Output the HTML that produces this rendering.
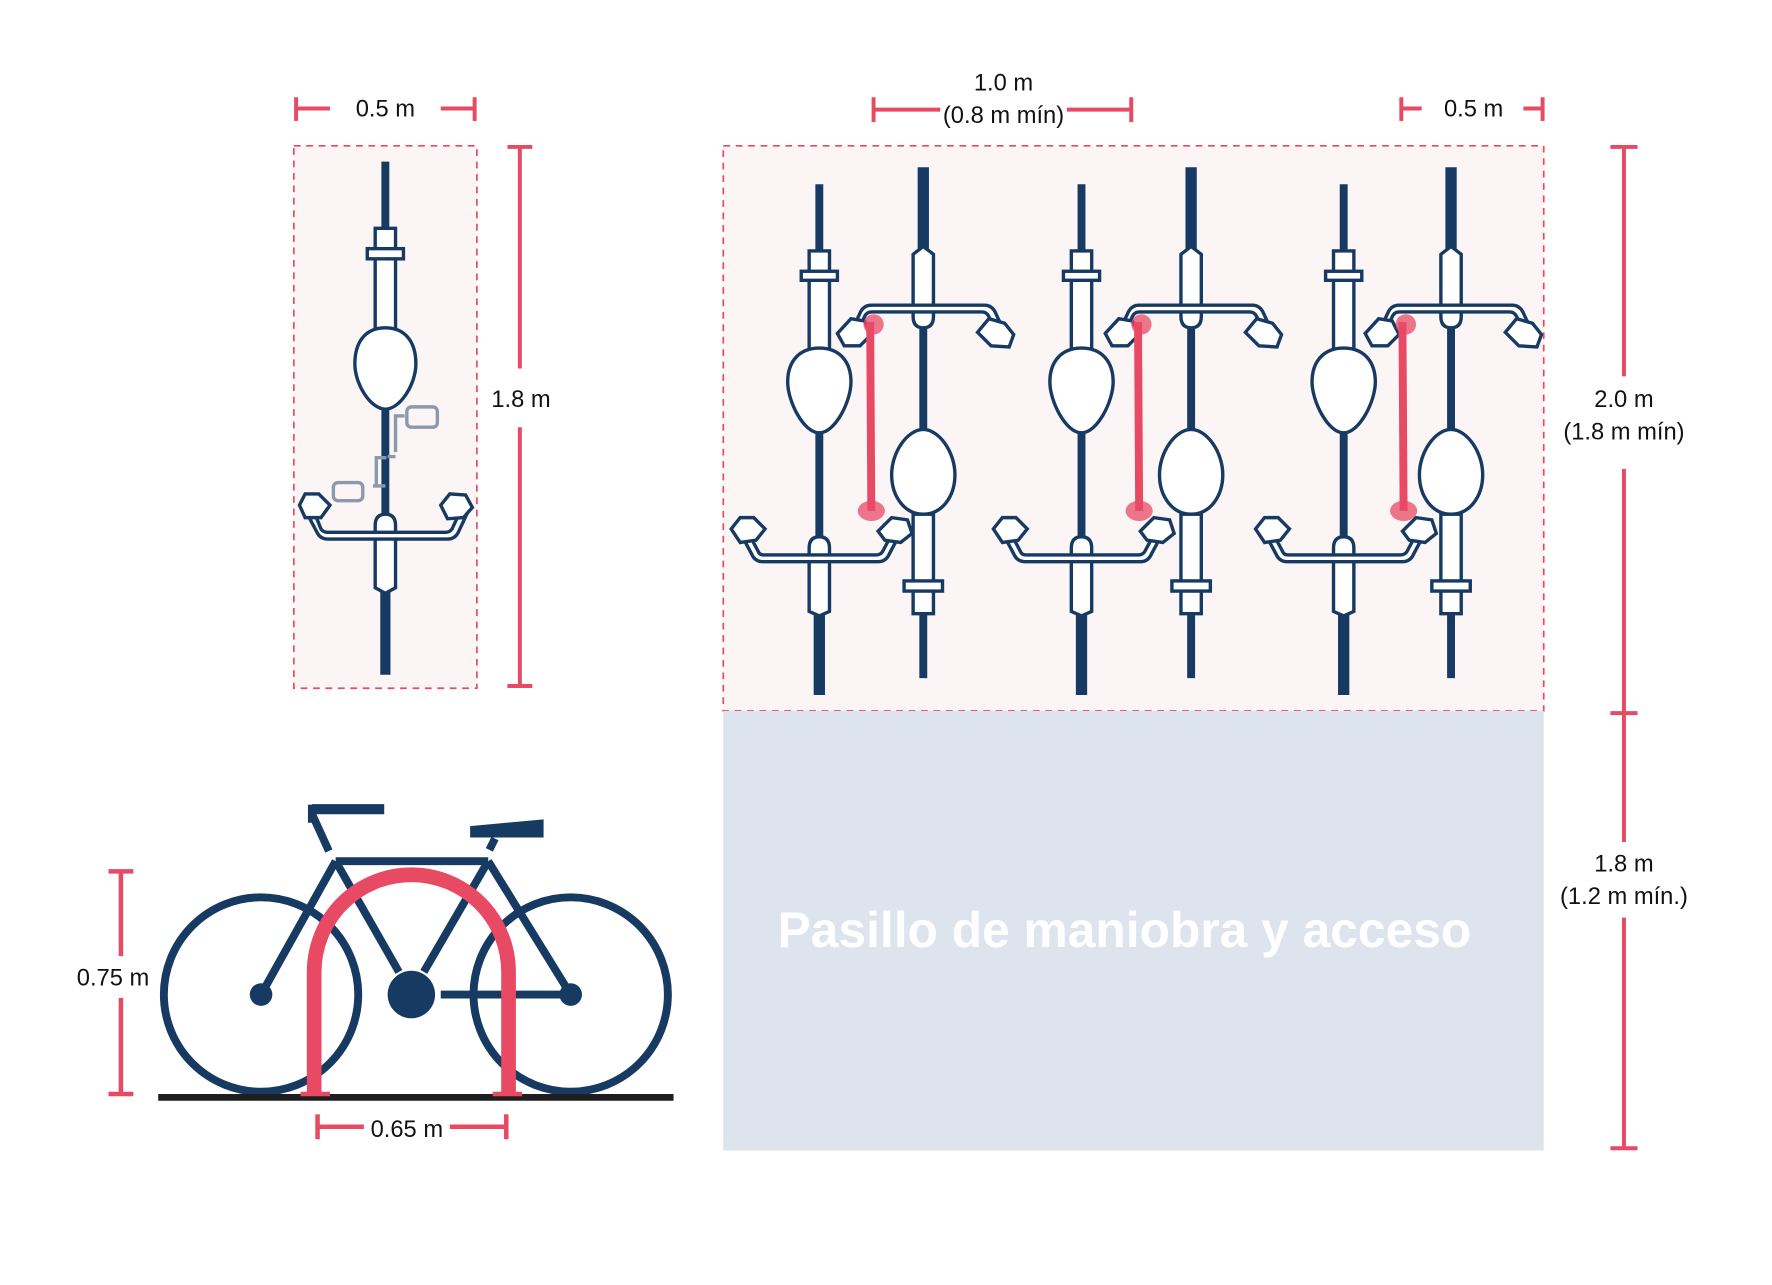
<!DOCTYPE html>
<html><head><meta charset="utf-8"><style>
html,body{margin:0;padding:0;background:#fff;}
svg{display:block;}
text{font-family:"Liberation Sans",sans-serif;fill:#111;}
</style></head><body>
<svg width="1772" height="1285" viewBox="0 0 1568 1137" xmlns="http://www.w3.org/2000/svg">
<defs>
<g id="bikeA" stroke="#173a63" stroke-width="3" fill="#fff">
  <line x1="0" y1="163" x2="0" y2="225" stroke-width="7"/>
  <line x1="0" y1="380" x2="0" y2="480" stroke-width="7"/>
  <line x1="0" y1="540" x2="0" y2="615" stroke-width="10"/>
  <rect x="-9" y="222" width="18" height="90"/>
  <rect x="-16" y="240" width="32" height="8"/>
  <path d="M0,308 C-18,308 -28,320 -28,338 C-28,355 -14,383 0,383 C14,383 28,355 28,338 C28,320 18,308 0,308Z"/>
  <path d="M-9,485 Q-9,475 0,475 Q9,475 9,485 V541 L0,545 L-9,541Z"/>
  <path d="M-68,475 L-60,490 Q-57,497 -50,497 H52 Q59,497 62,490 L70,475 L64,473 L56,488 Q54,491 50,491 H-49 Q-53,491 -54,488 L-62,473Z"/>
  <path d="M-78,468 L-70,458 L-58,458 L-48,468 L-56,478 L-70,480 Z"/>
  <path d="M52,470 L64,458 L78,460 L82,472 L72,480 L58,478 Z"/>
</g>
<g id="bikeB" stroke="#173a63" stroke-width="3" fill="#fff">
  <line x1="0" y1="148" x2="0" y2="220" stroke-width="10"/>
  <line x1="0" y1="285" x2="0" y2="385" stroke-width="7"/>
  <line x1="0" y1="538" x2="0" y2="600" stroke-width="7"/>
  <path d="M-9,225 L0,218 L9,225 V280 Q9,290 0,290 Q-9,290 -9,280Z"/>
  <path d="M-62,290 L-56,277 Q-53,270 -46,270 H54 Q61,270 64,277 L70,290 L64,292 L58,280 Q56,276 52,276 H-46 Q-50,276 -52,280 L-57,292Z"/>
  <path d="M-76,295 L-64,282 L-52,284 L-46,296 L-56,306 L-70,306 Z"/>
  <path d="M48,294 L58,282 L72,286 L80,296 L76,307 L60,306 Z"/>
  <path d="M0,380 C-14,380 -28,400 -28,420 C-28,440 -16,455 0,455 C16,455 28,440 28,420 C28,400 14,380 0,380Z"/>
  <rect x="-9" y="455" width="18" height="88"/>
  <rect x="-17" y="514" width="34" height="9"/>
</g>
<g id="rack">
  <line x1="0" y1="285" x2="1" y2="452" stroke="#e84a64" stroke-width="7"/>
  <circle cx="3" cy="287" r="9" fill="#e84a64" opacity="0.75"/>
  <ellipse cx="1" cy="452" rx="12" ry="9" fill="#e84a64" opacity="0.75"/>
</g>
</defs>

<rect x="260" y="129" width="162" height="480" fill="#fcf5f5" stroke="#e84a64" stroke-width="1.5" stroke-dasharray="6,5"/>
<g stroke="#e84a64" stroke-width="3.5">
<line x1="262" y1="96" x2="292" y2="96"/><line x1="262" y1="86" x2="262" y2="107"/>
<line x1="390" y1="96" x2="420" y2="96"/><line x1="420" y1="86" x2="420" y2="107"/>
<line x1="460" y1="130" x2="460" y2="326"/><line x1="460" y1="378" x2="460" y2="607"/>
<line x1="449" y1="130" x2="471" y2="130"/><line x1="449" y1="607" x2="471" y2="607"/>
</g>
<text x="341" y="103" font-size="21" text-anchor="middle">0.5 m</text>
<text x="461" y="360" font-size="21" text-anchor="middle">1.8 m</text>
<g stroke="#173a63" stroke-width="3" fill="#fff">
  <line x1="341" y1="143" x2="341" y2="205" stroke-width="7"/>
  <line x1="341" y1="360" x2="341" y2="460" stroke-width="7"/>
  <line x1="341" y1="520" x2="341" y2="597" stroke-width="9"/>
  <rect x="332" y="202" width="18" height="92"/>
  <rect x="325" y="220" width="32" height="9"/>
  <path d="M341,290 C323,290 314,303 314,322 C314,340 328,362 341,362 C354,362 368,340 368,322 C368,303 359,290 341,290Z"/>
  <g stroke="#8a9aaa" fill="none" stroke-width="3">
    <path d="M330,430 H341 M333,430 V405 H342 M350,400 V368 H358"/>
    <rect x="295" y="427" width="26" height="16" rx="4"/>
    <rect x="360" y="360" width="27" height="18" rx="4"/>
    <path d="M343,404 H350"/>
  </g>
  <path d="M332,465 Q332,455 341,455 Q350,455 350,465 V520 L341,525 L332,520Z"/>
  <path d="M272,455 L280,470 Q283,477 290,477 H396 Q403,477 406,470 L413,455 L407,453 L400,468 Q398,471 394,471 H290 Q286,471 284,468 L278,453Z"/>
  <path d="M265,447 L270,437 L282,437 L292,447 L284,458 L270,458 Z"/>
  <path d="M390,447 L398,437 L412,438 L418,449 L410,458 L396,459 Z"/>
</g>

<rect x="640" y="129" width="726" height="500" fill="#fcf5f5" stroke="#e84a64" stroke-width="1.5" stroke-dasharray="6,5"/>
<rect x="640" y="629" width="726" height="389" fill="#dde4ee"/>
<text x="995" y="838" font-size="44" font-weight="bold" text-anchor="middle" style="fill:#fff">Pasillo de maniobra y acceso</text>

<use href="#bikeA" x="725"/><use href="#bikeB" x="817"/><use href="#rack" x="770"/>
<use href="#bikeA" x="957"/><use href="#bikeB" x="1054"/><use href="#rack" x="1007"/>
<use href="#bikeA" x="1189"/><use href="#bikeB" x="1284"/><use href="#rack" x="1241"/>

<g stroke="#e84a64" stroke-width="3.5">
<line x1="773" y1="97" x2="832" y2="97"/><line x1="773" y1="86" x2="773" y2="108"/>
<line x1="944" y1="97" x2="1001" y2="97"/><line x1="1001" y1="86" x2="1001" y2="108"/>
<line x1="1240" y1="96" x2="1258" y2="96"/><line x1="1240" y1="86" x2="1240" y2="107"/>
<line x1="1348" y1="96" x2="1365" y2="96"/><line x1="1365" y1="86" x2="1365" y2="107"/>
<line x1="1437" y1="130" x2="1437" y2="333"/><line x1="1437" y1="415" x2="1437" y2="745"/>
<line x1="1437" y1="812" x2="1437" y2="1016"/>
<line x1="1425" y1="130" x2="1449" y2="130"/><line x1="1425" y1="631" x2="1449" y2="631"/>
<line x1="1425" y1="1016" x2="1449" y2="1016"/>
</g>
<text x="888" y="80" font-size="21" text-anchor="middle">1.0 m</text>
<text x="888" y="109" font-size="21" text-anchor="middle">(0.8 m mín)</text>
<text x="1304" y="103" font-size="21" text-anchor="middle">0.5 m</text>
<text x="1437" y="360" font-size="21" text-anchor="middle">2.0 m</text>
<text x="1437" y="389" font-size="21" text-anchor="middle">(1.8 m mín)</text>
<text x="1437" y="771" font-size="21" text-anchor="middle">1.8 m</text>
<text x="1437" y="800" font-size="21" text-anchor="middle">(1.2 m mín.)</text>

<g stroke="#173a63" stroke-width="7" fill="none">
  <ellipse cx="231" cy="880" rx="86" ry="86"/>
  <ellipse cx="505" cy="880" rx="86" ry="86"/>
  <line x1="231" y1="880" x2="297" y2="762"/>
  <line x1="297" y1="762" x2="432" y2="762"/>
  <line x1="297" y1="762" x2="353" y2="860"/>
  <line x1="432" y1="762" x2="375" y2="860"/>
  <line x1="390" y1="880" x2="505" y2="880"/>
  <line x1="432" y1="762" x2="505" y2="880"/>
  <line x1="291" y1="753" x2="276" y2="720"/>
  <line x1="276" y1="716" x2="340" y2="716" stroke-width="9"/>
  <line x1="276" y1="712" x2="276" y2="728"/>
  <line x1="433" y1="752" x2="438" y2="742"/>
</g>
<polygon points="416,731 481,725 481,741 416,741" fill="#173a63"/>
<circle cx="364" cy="880" r="21" fill="#173a63"/>
<circle cx="231" cy="880" r="10" fill="#173a63"/>
<circle cx="505" cy="880" r="10" fill="#173a63"/>
<line x1="140" y1="971" x2="596" y2="971" stroke="#1e1e1e" stroke-width="6"/>
<path d="M278,968 V860 A86,86 0 0 1 450,860 V968" stroke="#e84a64" stroke-width="13" fill="none"/>
<g stroke="#e84a64" stroke-width="4">
<line x1="266" y1="968" x2="292" y2="968"/><line x1="436" y1="968" x2="462" y2="968"/>
<line x1="107" y1="771" x2="107" y2="846"/><line x1="107" y1="883" x2="107" y2="968"/>
<line x1="96" y1="771" x2="118" y2="771"/><line x1="96" y1="968" x2="118" y2="968"/>
<line x1="281" y1="997" x2="322" y2="997"/><line x1="281" y1="986" x2="281" y2="1008"/>
<line x1="398" y1="997" x2="448" y2="997"/><line x1="448" y1="986" x2="448" y2="1008"/>
</g>
<text x="100" y="872" font-size="21" text-anchor="middle">0.75 m</text>
<text x="360" y="1006" font-size="21" text-anchor="middle">0.65 m</text>
</svg>
</body></html>
